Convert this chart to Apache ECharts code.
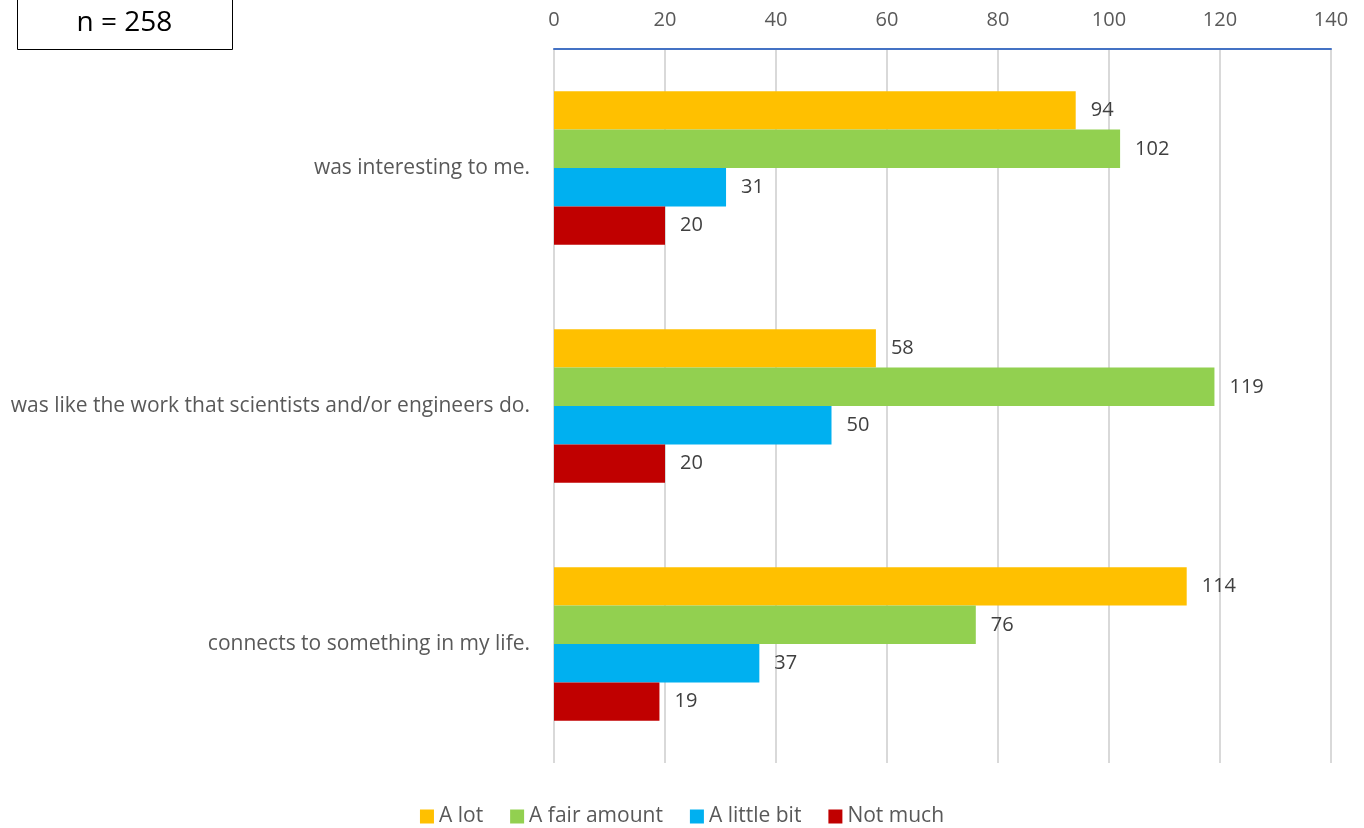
<!DOCTYPE html>
<html><head><meta charset="utf-8">
<script src="https://cdn.jsdelivr.net/npm/echarts@6/dist/echarts.min.js"></script>
<style>html,body{margin:0;padding:0;background:#fff}#c{width:1364px;height:828px}</style>
</head><body><div id="c"></div>
<script>
const categories = ["was interesting to me.", "was like the work that scientists and/or engineers do.", "connects to something in my life."];
const seriesNames = ["A lot", "A fair amount", "A little bit", "Not much"];
const aLot = [94, 58, 114];
const aFairAmount = [102, 119, 76];
const aLittleBit = [31, 50, 37];
const notMuch = [20, 20, 19];
const colors = ["#FFC000", "#92D050", "#00B0F0", "#C00000"];
const values = [aLot, aFairAmount, aLittleBit, notMuch];
const font = "Open Sans";
const chart = echarts.init(document.getElementById('c'));
chart.setOption({
  animation: false,
  textStyle: {fontFamily: font},
  grid: {left: 554, right: 33, top: 49, bottom: 65},
  xAxis: {
    type: 'value', position: 'top', min: 0, max: 140, interval: 20,
    axisLine: {show: true, lineStyle: {color: '#4472C4', width: 2}},
    axisTick: {show: false},
    axisLabel: {color: '#595959', fontSize: 20, margin: 19, fontFamily: font},
    splitLine: {lineStyle: {color: '#D9D9D9', width: 2}}
  },
  yAxis: {
    type: 'category', data: categories, inverse: true,
    axisLine: {show: false}, axisTick: {show: false},
    axisLabel: {color: '#595959', fontSize: 21, margin: 24, fontFamily: font}
  },
  legend: {
    top: 801, left: 'center', itemWidth: 14, itemHeight: 14, itemGap: 27, icon: 'rect',
    textStyle: {color: '#595959', fontSize: 21, fontFamily: font, padding: [0,0,0,0]},
    data: seriesNames
  },
  graphic: [{
    type: 'group', left: 17, top: -1,
    children: [
      {type: 'rect', shape: {x: 0, y: 0, width: 215, height: 50}, style: {fill: '#fff', stroke: '#000', lineWidth: 1}},
      {type: 'text', style: {x: 107, y: 24, text: 'n = 258', fill: '#000', font: '28px "Open Sans"', textAlign: 'center', textVerticalAlign: 'middle'}}
    ]
  }],
  series: seriesNames.map((n, i) => ({
    name: n, type: 'bar', data: values[i], barGap: '0%', barCategoryGap: '35.5%',
    itemStyle: {color: colors[i]},
    label: {show: true, position: 'right', distance: 15, color: '#404040', fontSize: 20, fontFamily: font}
  }))
});
</script></body></html>
